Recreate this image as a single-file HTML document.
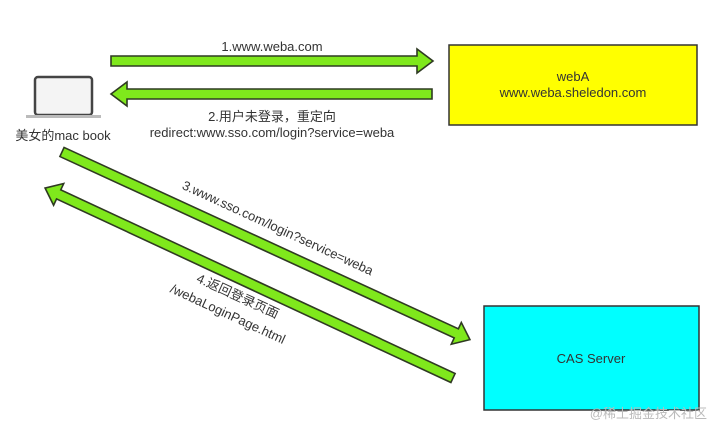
<!DOCTYPE html>
<html><head><meta charset="utf-8"><style>
body{margin:0;background:#fff;}
svg{display:block;font-family:"Liberation Sans","Noto Sans CJK SC",sans-serif;}
</style></head><body>
<svg width="724" height="435" viewBox="0 0 724 435" xmlns="http://www.w3.org/2000/svg">
<g fill="#7fe81c" stroke="#2f3a22" stroke-width="1.6" stroke-linejoin="miter">
<polygon points="111,56 417,56 417,49 433,61 417,73 417,66 111,66"/>
<polygon points="432,89 127,89 127,82 111,94 127,106 127,99 432,99"/>
<g transform="translate(62,152) rotate(24.7)">
<polygon points="0,-5 434,-5 434,-12 449,0 434,12 434,5 0,5"/>
</g>
<g transform="translate(453,378) rotate(204.97)">
<polygon points="0,-5 435,-5 435,-12 450,0 435,12 435,5 0,5"/>
</g>
</g>
<rect x="449" y="45" width="248" height="80" fill="#ffff00" stroke="#333" stroke-width="1.5"/>
<text x="573" y="81" font-size="13" fill="#333" text-anchor="middle">webA</text>
<text x="573" y="97" font-size="13" fill="#333" text-anchor="middle">www.weba.sheledon.com</text>
<rect x="484" y="306" width="215" height="104" fill="#00ffff" stroke="#333" stroke-width="1.5"/>
<text x="591" y="363" font-size="13" fill="#333" text-anchor="middle">CAS Server</text>
<text x="707" y="418" font-size="13" fill="#bbb" text-anchor="end">@稀土掘金技术社区</text>
<rect x="35" y="77" width="57" height="38" rx="3" fill="#f4f4f4" stroke="#444" stroke-width="2.5"/>
<rect x="26" y="115" width="75" height="3" fill="#bbb"/>
<text x="63" y="140" font-size="13" fill="#333" text-anchor="middle">美女的mac book</text>
<text x="272" y="51" font-size="13" fill="#333" text-anchor="middle">1.www.weba.com</text>
<text x="272" y="121" font-size="13" fill="#333" text-anchor="middle">2.用户未登录，重定向</text>
<text x="272" y="137" font-size="13" fill="#333" text-anchor="middle">redirect:www.sso.com/login?service=weba</text>
<text transform="translate(276,232) rotate(24.7)" font-size="13" fill="#333" text-anchor="middle">3.www.sso.com/login?service=weba</text>
<text transform="translate(236,300) rotate(24.7)" font-size="13" fill="#333" text-anchor="middle">4.返回登录页面</text>
<text transform="translate(226,318) rotate(24.7)" font-size="13" fill="#333" text-anchor="middle">/webaLoginPage.html</text>
</svg>
</body></html>
